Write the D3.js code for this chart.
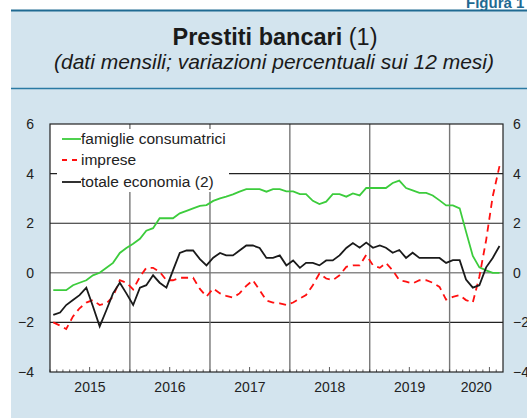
<!DOCTYPE html>
<html>
<head>
<meta charset="utf-8">
<script src="https://cdn.jsdelivr.net/npm/d3@7"></script>
<style>
  body { margin: 0; background: #fff; }
  svg { display: block; font-family: "Liberation Sans", Arial, sans-serif; }
</style>
</head>
<body>
<svg id="chart"></svg>
<script>
// dati mensili, gen 2015 - ago 2020
var startMonth = "2015-01";
var famiglie = [-0.7,-0.7,-0.7,-0.5,-0.4,-0.3,-0.1,0.0,0.2,0.4,0.8,1.0,
  1.17,1.37,1.7,1.8,2.2,2.2,2.2,2.4,2.5,2.6,2.7,2.73,
  2.9,3.0,3.07,3.16,3.27,3.37,3.37,3.37,3.27,3.37,3.37,3.28,
  3.28,3.17,3.17,2.9,2.77,2.87,3.17,3.17,3.07,3.2,3.12,3.42,
  3.42,3.42,3.42,3.62,3.72,3.42,3.32,3.22,3.22,3.12,2.92,2.72,
  2.72,2.6,1.66,0.68,0.22,0.1,0.0,0.0];
var imprese = [-2.0,-2.13,-2.27,-1.76,-1.43,-1.2,-1.1,-1.3,-1.23,-0.96,-0.3,-0.4,
  -0.67,-0.16,0.2,0.2,0.04,-0.3,-0.3,-0.2,-0.2,-0.2,-0.65,-0.96,
  -0.63,-0.83,-0.93,-1.0,-0.83,-0.53,-0.3,-0.7,-1.12,-1.2,-1.23,-1.3,
  -1.2,-1.03,-0.9,-0.5,-0.03,-0.23,-0.3,-0.1,0.24,0.3,0.3,0.72,
  0.3,0.2,0.4,0.1,-0.3,-0.36,-0.43,-0.3,-0.3,-0.4,-0.57,-1.08,
  -0.97,-0.9,-1.1,-1.2,-0.16,1.32,3.08,4.3];
var totale = [-1.7,-1.6,-1.3,-1.1,-0.9,-0.6,-1.35,-2.16,-1.5,-0.83,-0.4,-0.83,
  -1.3,-0.6,-0.5,-0.1,-0.4,-0.6,0.1,0.8,0.9,0.9,0.55,0.3,
  0.61,0.8,0.7,0.7,0.9,1.1,1.1,1.0,0.6,0.6,0.7,0.3,
  0.5,0.2,0.4,0.4,0.3,0.5,0.5,0.7,1.0,1.2,1.01,1.22,
  1.01,1.1,1.01,0.81,0.92,0.6,0.81,0.6,0.6,0.6,0.6,0.4,
  0.51,0.51,-0.27,-0.6,-0.5,0.22,0.6,1.08];
var yTicks = [-4,-2,0,2,4,6];
var years = [2015,2016,2017,2018,2019,2020];
var legendLabels = ["famiglie consumatrici","imprese","totale economia (2)"];

var W = 527, H = 418;
var plot = {left: 50, right: 503, top: 124, bottom: 372};

var svg = d3.select("#chart").attr("width", W).attr("height", H);

// sfondo
svg.append("rect").attr("x", 11).attr("y", 10).attr("width", W - 11).attr("height", H - 10)
  .attr("fill", "#d3e4ee");
svg.append("line").attr("x1", 11).attr("x2", W).attr("y1", 10.5).attr("y2", 10.5)
  .attr("stroke", "#1f6a92").attr("stroke-width", 2);
svg.append("line").attr("x1", 11).attr("x2", W).attr("y1", 88.5).attr("y2", 88.5)
  .attr("stroke", "#2a7aa3").attr("stroke-width", 1.5);
svg.append("text").attr("x", 466).attr("y", 8).attr("fill", "#1f6a92")
  .attr("font-weight", "bold").attr("font-size", 15).text("Figura 1");

// titolo
var t = svg.append("text").attr("x", 275).attr("y", 45).attr("text-anchor", "middle")
  .attr("font-size", 23.5).attr("fill", "#1a1a1a");
t.append("tspan").attr("font-weight", "bold").text("Prestiti bancari");
t.append("tspan").text(" (1)");
svg.append("text").attr("x", 274).attr("y", 69).attr("text-anchor", "middle")
  .attr("font-size", 21).attr("font-style", "italic").attr("fill", "#1a1a1a")
  .text("(dati mensili; variazioni percentuali sui 12 mesi)");

var parseMonth = d3.timeParse("%Y-%m");
var t0 = parseMonth(startMonth);
var dates = famiglie.map(function(d, i){ return d3.timeDay.offset(d3.timeMonth.offset(t0, i), 15); });

var x = d3.scaleTime()
  .domain([t0, d3.timeMonth.offset(t0, 68)])
  .range([plot.left, plot.right]);
var y = d3.scaleLinear().domain([-4, 6]).range([plot.bottom, plot.top]);

svg.append("rect").attr("x", plot.left).attr("y", plot.top)
  .attr("width", plot.right - plot.left).attr("height", plot.bottom - plot.top)
  .attr("fill", "#fff");

// griglia
svg.append("g").selectAll("line").data(yTicks.filter(function(d){ return d > -4 && d < 6; }))
  .enter().append("line")
  .attr("x1", plot.left).attr("x2", plot.right)
  .attr("y1", function(d){ return y(d); }).attr("y2", function(d){ return y(d); })
  .attr("stroke", function(d){ return d === 0 ? "#8a8a8a" : "#222"; })
  .attr("stroke-width", function(d){ return d === 0 ? 1.6 : 1.1; });

svg.append("g").selectAll("line").data(years.slice(1))
  .enter().append("line")
  .attr("x1", function(d){ return x(new Date(d, 0, 1)); })
  .attr("x2", function(d){ return x(new Date(d, 0, 1)); })
  .attr("y1", plot.top).attr("y2", plot.bottom)
  .attr("stroke", "#777").attr("stroke-width", 1.4);

// tacche mensili
var months = d3.timeMonth.range(t0, d3.timeMonth.offset(t0, 68));
svg.append("g").selectAll("line").data(months)
  .enter().append("line")
  .attr("x1", function(d){ return x(d); }).attr("x2", function(d){ return x(d); })
  .attr("y1", plot.bottom)
  .attr("y2", function(d){ return plot.bottom - (d.getMonth() === 6 ? 5 : 2.5); })
  .attr("stroke", "#333").attr("stroke-width", 0.8);

// assi
var axL = d3.axisLeft(y).tickValues(yTicks).tickSize(0).tickPadding(16);
var axR = d3.axisRight(y).tickValues(yTicks).tickSize(0).tickPadding(10);
var gl = svg.append("g").attr("transform", "translate(" + plot.left + ",0)").call(axL);
var gr = svg.append("g").attr("transform", "translate(" + plot.right + ",0)").call(axR);
[gl, gr].forEach(function(g){
  g.select(".domain").remove();
  g.selectAll("text").attr("font-size", 14).attr("fill", "#222")
    .attr("font-family", "Liberation Sans, Arial, sans-serif");
});

svg.append("g").selectAll("text").data(years).enter().append("text")
  .attr("x", function(d){
    var a = x(new Date(d, 0, 1)), b = Math.min(x(new Date(d + 1, 0, 1)), plot.right);
    return (a + b) / 2;
  })
  .attr("y", 392).attr("text-anchor", "middle").attr("font-size", 14).attr("fill", "#222")
  .text(function(d){ return d; });

// serie
var series = [
  {values: famiglie, color: "#3ccc3c", dash: null},
  {values: imprese, color: "#ff1010", dash: "7,5"},
  {values: totale, color: "#1a1a1a", dash: null}
];
var line = d3.line()
  .x(function(d, i){ return x(dates[i]); })
  .y(function(d){ return y(d); });

series.forEach(function(s){
  svg.append("path").datum(s.values)
    .attr("d", line)
    .attr("fill", "none")
    .attr("stroke", s.color)
    .attr("stroke-width", 1.8)
    .attr("stroke-dasharray", s.dash);
});

// legenda
svg.append("rect").attr("x", 57).attr("y", 129).attr("width", 172).attr("height", 63)
  .attr("fill", "#fff");
var lg = svg.append("g").selectAll("g").data(series).enter().append("g")
  .attr("transform", function(d, i){ return "translate(62," + [139, 160, 182][i] + ")"; });
lg.append("line").attr("x1", 0).attr("x2", 19).attr("y1", 0).attr("y2", 0)
  .attr("stroke", function(d){ return d.color; }).attr("stroke-width", 1.8)
  .attr("stroke-dasharray", function(d){ return d.dash ? "5,5" : null; });
lg.append("text").attr("x", 19).attr("y", 5).attr("font-size", 15.5).attr("fill", "#222")
  .text(function(d, i){ return legendLabels[i]; });

// cornice
svg.append("rect").attr("x", plot.left).attr("y", plot.top)
  .attr("width", plot.right - plot.left).attr("height", plot.bottom - plot.top)
  .attr("fill", "none").attr("stroke", "#222").attr("stroke-width", 1.2);
</script>
</body>
</html>
